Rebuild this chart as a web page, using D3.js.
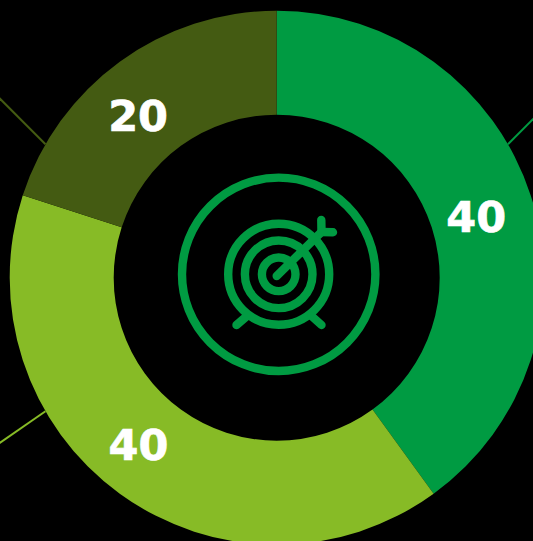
<!DOCTYPE html>
<html>
<head>
<meta charset="utf-8">
<style>
html,body{margin:0;padding:0;background:#000;overflow:hidden}
svg{display:block}
text{font-family:"DejaVu Sans",sans-serif;font-weight:700;fill:#fff}
</style>
<script src="https://cdn.jsdelivr.net/npm/d3@7/dist/d3.min.js"></script>
</head>
<body>
<svg id="chart" width="533" height="541"></svg>
<script>
// Data
const categories = ["A", "B", "C"];
const values = [40, 40, 20];
const colors = ["#009b42", "#87bb26", "#445b12"];
const labelAngles = [73.2, 219.6, 319.4];      // degrees clockwise from 12 o'clock
const labelRadii = [208.5, 217, 213];
const leaderAngles = [60, 240, 300];
const leaderEnds = [[40, -40], [-62, 43], [-62, -62]]; // run of each leader beyond the rim

const W = 533, H = 541, cx = 276.7, cy = 277.7, R = 267, r0 = 163;
const svg = d3.select("#chart");
const g = svg.append("g").attr("transform", `translate(${cx},${cy})`);
const rad = d => d * Math.PI / 180;

const pie = d3.pie().sort(null).value(d => d)(values);
const arc = d3.arc().innerRadius(r0).outerRadius(R);

// Leader lines behind the ring
g.selectAll("line.leader").data(leaderAngles).join("line")
  .attr("class", "leader")
  .attr("x1", d => R * Math.sin(rad(d)))
  .attr("y1", d => -R * Math.cos(rad(d)))
  .attr("x2", (d, i) => R * Math.sin(rad(d)) + leaderEnds[i][0])
  .attr("y2", (d, i) => -R * Math.cos(rad(d)) + leaderEnds[i][1])
  .attr("stroke", (d, i) => colors[i])
  .attr("stroke-width", 2);

g.selectAll("path.slice").data(pie).join("path")
  .attr("class", "slice")
  .attr("d", arc)
  .attr("fill", (d, i) => colors[i]);

g.selectAll("text.value").data(values).join("text")
  .attr("class", "value")
  .attr("x", (d, i) => labelRadii[i] * Math.sin(rad(labelAngles[i])))
  .attr("y", (d, i) => -labelRadii[i] * Math.cos(rad(labelAngles[i])))
  .attr("text-anchor", "middle")
  .attr("dominant-baseline", "central")
  .attr("font-size", 43)
  .attr("stroke", "#fff")
  .attr("stroke-width", 0.7)
  .text(d => d);

// Target icon
const iconColor = "#009b42";
const iconCx = 278.7, iconCy = 274.3;
const ringRadii = [96.7, 50.5, 33.8, 16.8];
const iconStrokes = [8.4, 8.4, 8.4, 8.4];
const iconLines = [
  [[276.7, 276], [321.5, 232]],
  [[321.3, 220], [321.5, 232]],
  [[333, 232.3], [321.5, 232]],
  [[236.5, 325], [247, 316]],
  [[321.5, 325], [311.5, 316]]
];
const icon = svg.append("g");
icon.selectAll("circle").data(ringRadii).join("circle")
  .attr("cx", iconCx).attr("cy", iconCy).attr("r", d => d)
  .attr("fill", "none").attr("stroke", iconColor)
  .attr("stroke-width", (d, i) => iconStrokes[i]);
icon.selectAll("path").data(iconLines).join("path")
  .attr("d", d3.line())
  .attr("fill", "none").attr("stroke", iconColor)
  .attr("stroke-width", 8.4).attr("stroke-linecap", "round");
</script>
</body>
</html>
